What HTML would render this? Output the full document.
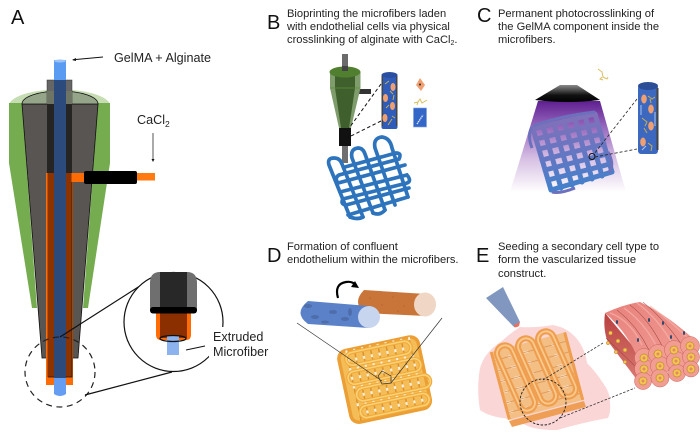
<!DOCTYPE html>
<html><head><meta charset="utf-8"><style>
html,body{margin:0;padding:0;background:#fff}
svg{display:block}
text{font-family:"Liberation Sans",Arial,sans-serif;fill:#222}
.t{font-size:11.15px}
.m{font-size:12.6px}
.l{font-size:20px;fill:#111}
</style></head><body>
<svg width="700" height="446" viewBox="0 0 700 446" xmlns="http://www.w3.org/2000/svg">
<defs>
<linearGradient id="uv" x1="0" y1="0" x2="0" y2="1"><stop offset="0" stop-color="#5f1f90"/><stop offset=".3" stop-color="#9a6cc0"/><stop offset=".62" stop-color="#d5bde2"/><stop offset="1" stop-color="#ffffff"/></linearGradient>
<linearGradient id="lamp" x1="0" y1="0" x2="0" y2="1"><stop offset="0" stop-color="#8a8a8a"/><stop offset=".6" stop-color="#111"/><stop offset="1" stop-color="#000"/></linearGradient>
<linearGradient id="cgrid" gradientUnits="userSpaceOnUse" x1="565" y1="112" x2="575" y2="192"><stop offset="0" stop-color="#8570b8"/><stop offset=".6" stop-color="#5f78c4"/><stop offset="1" stop-color="#3f82cc"/></linearGradient>
<linearGradient id="mus" x1="0" y1="0" x2="1" y2="1"><stop offset="0" stop-color="#e8817c"/><stop offset="1" stop-color="#f09a92"/></linearGradient>
<linearGradient id="wall" x1="0" y1="0" x2="0" y2="1"><stop offset="0" stop-color="#b8403e"/><stop offset="1" stop-color="#da7a72"/></linearGradient>
</defs>

<!-- Panel A -->
<text class="l" x="11" y="24">A</text>
<text class="m" x="114" y="62">GelMA + Alginate</text>
<text class="m" x="137" y="124">CaCl<tspan font-size="8.500" dy="3">2</tspan></text>
<path d="M103 57L73 59.700" stroke="#111" stroke-width="1" fill="none"/><path d="M72 60l4-2v3z" fill="#111"/>
<path d="M153 133V160" stroke="#555" stroke-width="1"/><path d="M151.500 159h3l-1.500 3z" fill="#111"/>
<path d="M9 104A51 17 0 0 1 110 104Z" fill="#c6dcb2"/>
<path d="M9 103H110V163L88 308H83L98 104H22L37 308H32L9 163Z" fill="#76ac50"/>
<path d="M22 104H98L78 358H42Z" fill="#595552" stroke="#111" stroke-width=".8"/>
<path d="M22 104A38 13 0 0 1 98 104Z" fill="#95a58a" stroke="#111" stroke-width=".8"/>
<rect x="47" y="80" width="25" height="24" fill="#666" stroke="#333" stroke-width=".5"/>
<rect x="47" y="91" width="25" height="13" fill="#6e7565"/>
<rect x="47" y="104" width="25" height="69" fill="#262524"/>
<rect x="46" y="173" width="27" height="212" fill="#ff6c05"/>
<rect x="47.500" y="173" width="24" height="204" fill="#8c3300"/>
<rect x="72" y="173" width="14" height="9" fill="#ff6c05"/>
<path d="M48 377H72V182" fill="none" stroke="#111" stroke-width=".8"/>
<rect x="84" y="171" width="53" height="13" rx="2" fill="#000"/>
<rect x="137" y="173" width="18" height="7.500" fill="#ff7a10"/>
<rect x="54" y="60" width="12" height="30" fill="#5b9bf2"/>
<ellipse cx="60" cy="61" rx="6" ry="1.500" fill="#9cc3f7"/>
<rect x="54" y="80" width="12" height="298" fill="#2c4a7c"/>
<path d="M54 378H66V394Q60 398 54 394Z" fill="#659df2"/>
<circle cx="60" cy="372" r="35" fill="none" stroke="#222" stroke-width="1.200" stroke-dasharray="6 4.500"/>
<path d="M60 337L143 284M85 395L172 372" stroke="#111" stroke-width="1.200"/>
<circle cx="173.500" cy="322" r="49.500" fill="#fff" stroke="#111" stroke-width="1.200"/>
<path d="M150 283Q150 272 160 272H187Q197 272 197 283V311H150Z" fill="#6f6f6f"/>
<path d="M160 272H187V311H160Z" fill="#282828"/>
<path d="M156 311H191V335Q191 340 186 340H161Q156 340 156 335Z" fill="#ff6c05"/>
<path d="M160 311H187V338H160Z" fill="#8c2f00"/>
<rect x="150" y="307" width="47" height="6.500" rx="3" fill="#000"/>
<rect x="167" y="336" width="12" height="19" fill="#8cb3ee"/>
<ellipse cx="173" cy="338.500" rx="13" ry="3" fill="none" stroke="#111" stroke-width="1.300"/>
<rect x="209" y="327" width="66" height="30" fill="#fff"/>
<text class="m" x="213" y="341">Extruded</text>
<text class="m" x="213" y="356">Microfiber</text>
<path d="M205 346L186 350" stroke="#111" stroke-width="1"/>

<!-- Panel B -->
<text class="l" x="267" y="29">B</text>
<text class="t" x="287" y="17">Bioprinting the microfibers laden</text>
<text class="t" x="287" y="30">with endothelial cells via physical</text>
<text class="t" x="287" y="43">crosslinking of alginate with CaCl<tspan font-size="7" dy="2">2</tspan><tspan dy="-2">.</tspan></text>
<rect x="342" y="54" width="6" height="18" fill="#6b6b6b"/>
<rect x="342" y="146" width="6" height="17" fill="#6f6f6f"/>
<rect x="355" y="89" width="16" height="5" fill="#333"/>
<path d="M330 72H360.500V88L351 128H339L330 88Z" fill="#7f9c6c"/>
<path d="M335 72H355V88L349 128H341L335 88Z" fill="#3f5f2c"/>
<ellipse cx="345" cy="72" rx="15.500" ry="5.500" fill="#517f30"/>
<path d="M330 88H360" stroke="#5d8f3a" stroke-width=".8"/>
<rect x="339" y="128" width="12" height="18" fill="#111"/>
<rect x="342" y="66" width="6" height="5" fill="#444"/>
<rect x="381.500" y="74" width="16" height="55" rx="2" fill="#2f5cb8"/>
<rect x="381.500" y="76" width="1.500" height="50" fill="#444"/><rect x="396" y="76" width="1.500" height="50" fill="#444"/>
<ellipse cx="389.500" cy="75" rx="8" ry="3" fill="#2b4fa0"/>
<ellipse cx="393" cy="87" rx="2.500" ry="4" fill="#f0a070"/><ellipse cx="385.500" cy="98" rx="2.500" ry="4" fill="#f0a070"/><ellipse cx="392.500" cy="106" rx="2.500" ry="4" fill="#f0a070"/><ellipse cx="385" cy="118" rx="2.500" ry="4" fill="#f0a070"/>
<path d="M385 84l4-3M390 91l3 3M386 108l3-3M392 116l3 2M388 125l4-6M393 100l1-5" stroke="#c9ad4f" stroke-width="1" fill="none"/>
<path d="M381 84L347 131M381 121L347 138" stroke="#111" stroke-width="1" stroke-dasharray="3.500 2.500"/>
<path d="M420 78L425 85L421 91L416 85Z" fill="#f0a070"/><circle cx="420" cy="84.500" r="1" fill="#222"/>
<path d="M414 103l4-1 2-3 2 4 5-3M418 102l-1 3" stroke="#dcbf60" stroke-width="1" fill="none"/>
<rect x="413.500" y="108" width="13" height="19" fill="#3366c6" stroke="#7da0e0" stroke-width=".6"/>
<path d="M417 124l6-9" stroke="#dfe9fa" stroke-width="1.300" stroke-dasharray="1.500 .6"/>
<g fill="none" stroke="#2d74bd" stroke-width="3.700" stroke-linecap="round">
<path d="M350 217L329 165Q327 158 334 158Q340 158 342 164L363 217"/>
<path d="M373 213L352 158Q350 149 358 148Q363 148 365 154L385 210"/>
<path d="M395 205L375 148Q373 138 382 137Q390 138 392 148L408 197"/>
<path d="M345 167L396 153Q402 153 399 159L339 175Q334 178 338 183L405 165M340 192L407 175Q412 181 407 183L343 199Q340 204 346 205L409 188M348 215L408 197"/>
<path d="M350 217Q358 220 363 217M373 213Q380 216 385 210"/>
</g>

<!-- Panel C -->
<text class="l" x="477" y="22">C</text>
<text class="t" x="498" y="17">Permanent photocrosslinking of</text>
<text class="t" x="498" y="30">the GelMA component inside the</text>
<text class="t" x="498" y="43">microfibers.</text>
<path d="M538 101H600L626 192H510Z" fill="url(#uv)"/>
<path d="M560 85H577L600 100Q568 104 535 100Z" fill="url(#lamp)"/>
<g fill="none" stroke="url(#cgrid)" stroke-width="5" stroke-linecap="round" stroke-linejoin="round">
<path d="M533 129L595 114L612 172L551 190Z"/>
<path d="M536 139L598 124M539 149L601 134M542 160L604 144M545 170L607 154M548 180L610 164"/>
<path d="M543 126L561 188M554 124L572 185M564 121L582 182M575 119L592 179M585 116L602 176"/>
</g>
<path d="M532 127Q527 135 532 148M609 172Q615 165 608 152M552 192Q560 194 575 188M533 126Q560 116 595 112" fill="none" stroke="#6d70bd" stroke-width="3"/>
<rect x="638" y="85" width="20" height="69" rx="3" fill="#3d68c0"/>
<rect x="656.500" y="88" width="2" height="62" fill="#444"/>
<ellipse cx="648" cy="86" rx="10" ry="4" fill="#2c4e96"/>
<ellipse cx="644" cy="99" rx="2.800" ry="4.500" fill="#f0a070"/><ellipse cx="651" cy="109" rx="2.800" ry="4.500" fill="#f0a070"/><ellipse cx="651" cy="126" rx="2.800" ry="4.500" fill="#f0a070"/><ellipse cx="643" cy="142" rx="2.800" ry="4.500" fill="#f0a070"/>
<path d="M648 96l4 3 3-2M642 118l5 4-2 4M644 128l3 5M648 143l4 3-1 5M650 99l1 4" stroke="#c9ad4f" stroke-width="1" fill="none"/>
<path d="M641 105v10M655 112v14M642 150l4-4" stroke="#a9c4ee" stroke-width="1"/>
<circle cx="592" cy="156.500" r="3" fill="none" stroke="#111" stroke-width="1"/>
<path d="M637 99L594 154M595 157L637 149" stroke="#222" stroke-width=".8" stroke-dasharray="3 2"/>
<path d="M598 69l4 3 1 5 4 2 1-2M602 77l-2 2 3 1" stroke="#dcbf60" stroke-width="1" fill="none"/>

<!-- Panel D -->
<text class="l" x="267" y="262">D</text>
<text class="t" x="287" y="250">Formation of confluent</text>
<text class="t" x="287" y="263">endothelium within the microfibers.</text>
<path d="M364 290L426 294Q437 303 426 316L364 313Q352 302 364 290Z" fill="#c9753a"/>
<ellipse cx="425" cy="304.500" rx="11" ry="12" fill="#efd6c5"/>
<g fill="#a85a2c" fill-opacity=".6"><circle cx="370" cy="298" r=".8"/><circle cx="382" cy="305" r=".8"/><circle cx="393" cy="297" r=".8"/><circle cx="404" cy="306" r=".8"/><circle cx="375" cy="309" r=".8"/><circle cx="398" cy="311" r=".8"/></g>
<path d="M308 301L369 306Q381 316 369 328L308 324Q293 313 308 301Z" fill="#5b82c8"/>
<ellipse cx="369" cy="317" rx="11" ry="11" fill="#c7d5ee"/>
<g fill="#48649c" fill-opacity=".7"><ellipse cx="308" cy="306" rx="4" ry="2"/><ellipse cx="333" cy="312" rx="4" ry="2"/><ellipse cx="345" cy="319" rx="4" ry="2"/><ellipse cx="350" cy="312" rx="2" ry="4"/><ellipse cx="315" cy="317" rx="4" ry="2"/><ellipse cx="325" cy="322" rx="4" ry="1.500"/></g>
<path d="M338 298Q334 284 346 282Q352 281 356 285" fill="none" stroke="#000" stroke-width="2.200"/><path d="M359 288L351 287L355 281Z" fill="#000"/>
<g transform="translate(385,379) rotate(-12)">
<rect x="-41" y="-36" width="81" height="73" rx="8" fill="#f5bd58" stroke="#ec9f35" stroke-width="3.500"/>
<path d="M-32 -36V36M-24 -36V36M-16 -36V36M-8 -36V36M0 -36V36M8 -36V36M16 -36V36M24 -36V36M32 -36V36" stroke="#dc922c" stroke-width="1.500" fill="none"/>
<path d="M-32 -36V36M-24 -36V36M-16 -36V36M-8 -36V36M0 -36V36M8 -36V36M16 -36V36M24 -36V36M32 -36V36" stroke="#fff" stroke-width="2" stroke-dasharray="3 6" opacity=".85"/>
<g fill="none" stroke="#f2ab3a" stroke-width="3.800"><rect x="-34" y="-33" width="66" height="13" rx="6.500"/><rect x="-36" y="-14" width="74" height="13" rx="6.500"/><rect x="-31" y="4" width="75" height="13" rx="6.500"/><rect x="-31" y="22" width="70" height="12" rx="6"/></g>
<g fill="none" stroke="#fad27a" stroke-width="1.500"><rect x="-34" y="-33" width="66" height="13" rx="6.500"/><rect x="-36" y="-14" width="74" height="13" rx="6.500"/><rect x="-31" y="4" width="75" height="13" rx="6.500"/><rect x="-31" y="22" width="70" height="12" rx="6"/></g>
</g>
<path d="M297 323L382 381M442 318L391 383" stroke="#333" stroke-width=".7"/>
<path d="M382 371L391 376L391 383L382 384L378 376Z" fill="none" stroke="#333" stroke-width=".7"/>

<!-- Panel E -->
<text class="l" x="476" y="262">E</text>
<text class="t" x="498" y="250">Seeding a secondary cell type to</text>
<text class="t" x="498" y="263">form the vascularized tissue</text>
<text class="t" x="498" y="277">construct.</text>
<path d="M479 375Q480 355 503 340Q512 332 520 327Q535 328 553 325Q570 328 580 343Q586 353 587 363Q596 372 603 383Q610 392 610 402Q611 412 608 418Q585 422 557 430Q540 430 530 427Q515 420 503 418Q488 416 480 410Q477 392 479 375Z" fill="#fbd6d6"/>
<path d="M486 298L503 287L520 322L514 327Z" fill="#8197bf"/>
<path d="M514 325L520 322L519 326Q516 328 514 327Z" fill="#e8715f"/>
<path d="M509 421L584 401L586 407L512 427Z" fill="#ee9f55"/>
<g transform="translate(537,376) rotate(-15)">
<rect x="-38" y="-35" width="76" height="70" fill="#f3bf85"/>
<path d="M-38 -26H38M-38 -15H38M-38 -4H38M-38 7H38M-38 18H38M-38 28H38" stroke="#fff" stroke-width="2" stroke-dasharray="6 9" opacity=".8"/>
<path d="M-38 -26H38M-38 -15H38M-38 -4H38M-38 7H38M-38 18H38M-38 28H38" stroke="#df9a5c" stroke-width="1" fill="none"/>
<path d="M-38 -35V35M38 -35V35" stroke="#ef9e50" stroke-width="3"/>
</g>
<g fill="none" stroke="#ef9e50" stroke-width="6"><rect x="-8" y="-35" width="16" height="70" rx="8" transform="translate(516,378) rotate(-24)"/><rect x="-8" y="-35" width="16" height="70" rx="8" transform="translate(537,371) rotate(-24)"/><rect x="-8" y="-35" width="16" height="70" rx="8" transform="translate(557,364) rotate(-24)"/></g>
<g fill="none" stroke="#fac98c" stroke-width="1.800"><rect x="-8" y="-35" width="16" height="70" rx="8" transform="translate(516,378) rotate(-24)"/><rect x="-8" y="-35" width="16" height="70" rx="8" transform="translate(537,371) rotate(-24)"/><rect x="-8" y="-35" width="16" height="70" rx="8" transform="translate(557,364) rotate(-24)"/></g>
<circle cx="543" cy="402" r="23" fill="none" stroke="#222" stroke-width=".9" stroke-dasharray="2.500 1.500"/>
<path d="M543 380L603 343M560 418L635 388" stroke="#333" stroke-width=".8" stroke-dasharray="2.500 1.500"/>
<path d="M605 313L636 350L637 380L607 340Q603 328 605 313Z" fill="url(#wall)"/>
<path d="M605 313Q625 304 640 302Q668 315 698 343L696 348L636 354Q625 330 605 313Z" fill="url(#mus)"/>
<path d="M617 310Q637 325 650 352M630 305Q650 320 664 350M643 302Q665 320 682 345M606 338L637 368" stroke="#8a3432" stroke-width=".5" fill="none"/>
<g fill="none" stroke="#f6b8ae" stroke-width="1.500" opacity=".6"><path d="M610 313Q630 320 642 345M624 308Q644 322 657 347M637 303Q658 318 673 345M650 306Q672 322 692 342"/></g>
<g fill="#2c4770"><ellipse cx="617" cy="322" rx="1" ry="2"/><ellipse cx="649" cy="320" rx="1" ry="2"/><ellipse cx="663" cy="323" rx="1" ry="2"/><ellipse cx="638" cy="340" rx="1" ry="2"/><ellipse cx="671" cy="337" rx="1" ry="2"/><ellipse cx="684" cy="333" rx="1" ry="2"/></g>
<g fill="#f4c64e" stroke="#b8763a" stroke-width=".5"><circle cx="610.500" cy="333" r="2"/><circle cx="618" cy="341" r="2"/><circle cx="608" cy="343" r="1.700"/><circle cx="625" cy="350" r="2"/><circle cx="616" cy="352" r="1.700"/><circle cx="625" cy="362" r="1.700"/></g>
<g fill="#f29d92" stroke="#c7615c" stroke-width=".5"><circle cx="644" cy="358" r="9.500"/><circle cx="658" cy="354" r="9.500"/><circle cx="674" cy="350" r="9.500"/><circle cx="690" cy="346" r="9.500"/><circle cx="644" cy="369" r="9.500"/><circle cx="660" cy="366" r="9.500"/><circle cx="676" cy="361" r="9.500"/><circle cx="691" cy="357" r="8.500"/><circle cx="643" cy="381" r="8.500"/><circle cx="660" cy="378" r="9"/><circle cx="677" cy="373" r="8.500"/><circle cx="691" cy="369" r="8"/></g>
<g fill="#f4c64e" stroke="#c28a3e" stroke-width=".7"><circle cx="644" cy="358" r="4"/><circle cx="658" cy="354" r="4"/><circle cx="674" cy="350" r="4"/><circle cx="690" cy="346" r="4"/><circle cx="644" cy="369" r="4"/><circle cx="660" cy="366" r="4"/><circle cx="676" cy="361" r="4"/><circle cx="691" cy="357" r="4"/><circle cx="643" cy="381" r="4"/><circle cx="660" cy="378" r="4"/><circle cx="677" cy="373" r="4"/><circle cx="691" cy="369" r="4"/></g>
<g fill="#e08a6a"><circle cx="644" cy="358" r="1.500"/><circle cx="658" cy="354" r="1.500"/><circle cx="674" cy="350" r="1.500"/><circle cx="690" cy="346" r="1.500"/><circle cx="644" cy="369" r="1.500"/><circle cx="660" cy="366" r="1.500"/><circle cx="676" cy="361" r="1.500"/><circle cx="691" cy="357" r="1.500"/><circle cx="643" cy="381" r="1.500"/><circle cx="660" cy="378" r="1.500"/><circle cx="677" cy="373" r="1.500"/><circle cx="691" cy="369" r="1.500"/></g>
</svg>
</body></html>
